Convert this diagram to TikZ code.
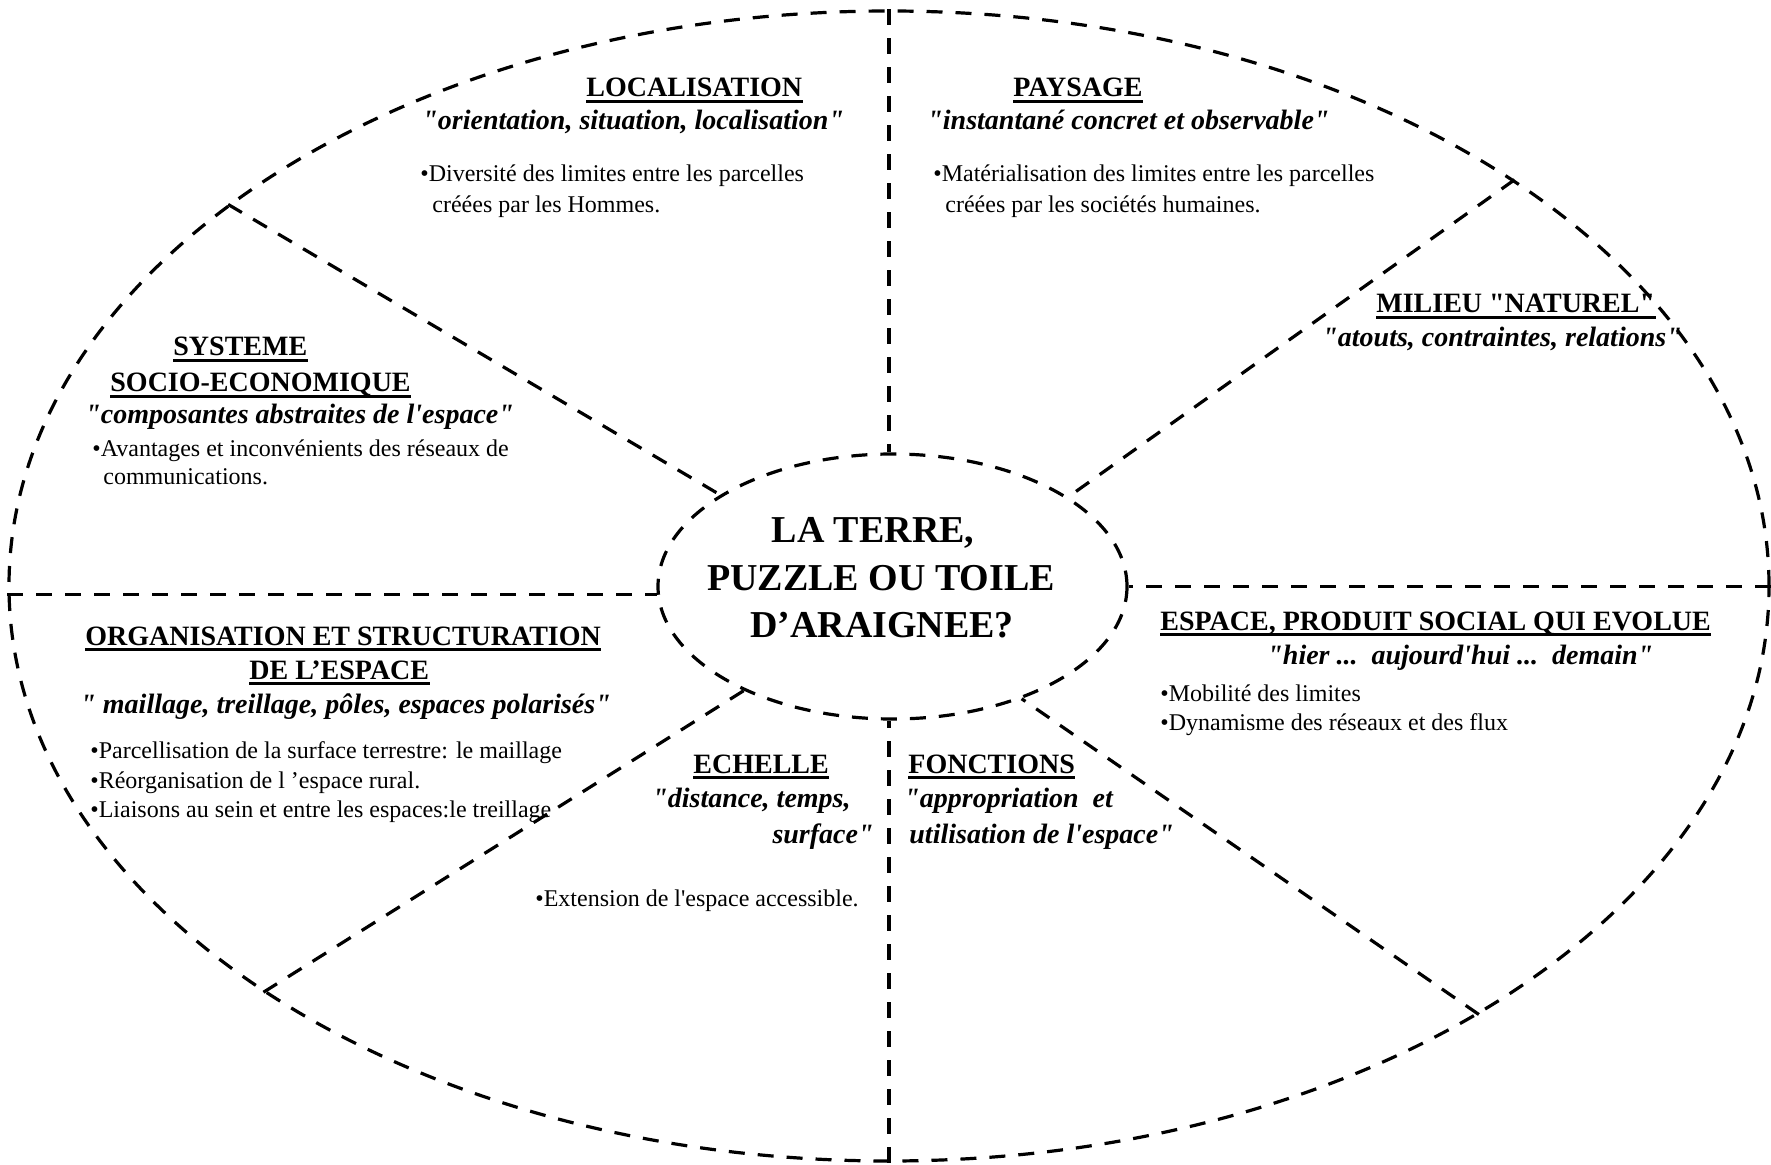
\documentclass[tikz,border=0pt]{standalone}
\usepackage{fontspec}
\setmainfont{Liberation Serif}[Ligatures=TeXOff]
\usetikzlibrary{shapes.geometric}
\begin{document}
\begin{tikzpicture}[x=0.5pt,y=-0.5pt,
  sep/.style={line width=1.6pt, dash pattern=on 8pt off 6.5pt},
  head/.style={inner sep=0pt, anchor=base west, font=\fontsize{14}{16}\selectfont\bfseries},
  sub/.style={inner sep=0pt, anchor=base west, font=\fontsize{14}{16}\selectfont\bfseries\itshape},
  subr/.style={sub, anchor=base east},
  body/.style={inner sep=0pt, anchor=base west, font=\fontsize{12}{14}\selectfont},
  ttl/.style={inner sep=0pt, anchor=base, font=\fontsize{19}{23}\selectfont\bfseries},
  uline/.style={line width=1.4pt}]
\useasboundingbox (0,0) rectangle (1771,1165);
% ellipses
\node[draw, sep, ellipse, minimum width=880pt, minimum height=575pt, inner sep=0pt] (outer) at (889,586) {};
\node[draw, sep, ellipse, minimum width=234.5pt, minimum height=132.5pt, inner sep=0pt] (inner) at (892.5,586.5) {};
% separators
\draw[sep] (outer.north) -- (outer.north |- inner.north);
\draw[sep] (outer.south) -- (outer.south |- inner.south);
\draw[sep] (outer.west |- inner.182) -- (inner.182);
\draw[sep] (outer.east |- inner.east) -- (inner.east);
\draw[sep] (outer.150.4) -- (inner.152.1);
\draw[sep] (outer.33.2) -- (inner.27.3);
\draw[sep] (outer.213.5) -- (inner.215.1);
\draw[sep] (outer.324.2) -- (inner.319.7);
% title
\node[ttl] (t1) at (873,543) {LA TERRE,};
\node[ttl] (t2) at (881,590) {PUZZLE OU TOILE};
\node[ttl] (t3) at (882,637) {D’ARAIGNEE?};
% LOCALISATION
\node[head] (hloc) at (586,97) {LOCALISATION\ };
\node[sub] (sloc) at (422,130) {"orientation, situation, localisation"};
\node[body] (bloc1) at (420,182) {•Diversité des limites entre les parcelles};
\node[body] (bloc2) at (432,213) {créées par les Hommes.};
% PAYSAGE
\node[head] (hpay) at (1013,97) {PAYSAGE};
\node[sub] (spay) at (927,130) {"instantané concret et observable"};
\node[body] (bpay1) at (933,182) {•Matérialisation des limites entre les parcelles};
\node[body] (bpay2) at (945,213) {créées par les sociétés humaines.};
% MILIEU
\node[head] (hmil) at (1376,313) {MILIEU "NATUREL"};
\node[sub] (smil) at (1322,347) {"atouts, contraintes, relations"};
% SYSTEME
\node[head] (hsys1) at (173,356) {SYSTEME};
\node[head] (hsys2) at (110,392) {SOCIO-ECONOMIQUE};
\node[sub] (ssys) at (85,424) {"composantes abstraites de l'espace"};
\node[body] (bsys1) at (92,457) {•Avantages et inconvénients des réseaux de};
\node[body] (bsys2) at (103,485) {communications.};
% ORGANISATION
\node[head] (horg1) at (85,645) {ORGANISATION ET STRUCTURATION};
\node[head] (horg2) at (249,679) {DE L’ESPACE};
\node[sub] (sorg) at (80,713) {" maillage, treillage, pôles, espaces polarisés"};
\node[body] (borg1) at (90,758) {•Parcellisation de la surface terrestre: le maillage};
\node[body] (borg2) at (90,788) {•Réorganisation de l ’espace rural.};
\node[body] (borg3) at (90,817) {•Liaisons au sein et entre les espaces:le treillage};
% ECHELLE
\node[head] (hech) at (693,773) {ECHELLE};
\node[subr] (sech1) at (851,807) {"distance, temps,};
\node[subr] (sech2) at (874,843) {surface"};
\node[body] (bech) at (535,906) {•Extension de l'espace accessible.};
% FONCTIONS
\node[head] (hfon) at (908,773) {FONCTIONS};
\node[sub] (sfon1) at (904,807) {"appropriation\ \ et};
\node[sub] (sfon2) at (909,843) {utilisation de l'espace"};
% ESPACE
\node[head] (hesp) at (1160,630) {ESPACE, PRODUIT SOCIAL QUI EVOLUE};
\node[sub] (sesp) at (1267,664) {"hier ...\ \ aujourd'hui ...\ \ demain"};
\node[body] (besp1) at (1160,701) {•Mobilité des limites};
\node[body] (besp2) at (1160,730) {•Dynamisme des réseaux et des flux};
% underlines
\foreach \n in {hloc,hpay,hmil,hsys1,hsys2,horg1,horg2,hech,hfon,hesp}
  \draw[uline] ([yshift=-2.4pt]\n.base west) -- ([yshift=-2.4pt]\n.base east);
\end{tikzpicture}
\end{document}
